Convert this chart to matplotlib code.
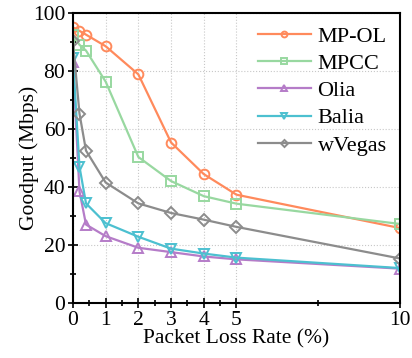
import matplotlib.pyplot as plt
import numpy as np

plt.rcParams['font.family'] = ['Liberation Serif', 'DejaVu Serif']

loss = [0, 0.2, 0.4, 1, 2, 3, 4, 5, 10]
mp_ol = [95, 93.8, 92.5, 88.5, 78.8, 55.3, 44.4, 37.3, 25.8]
mpcc = [92.5, 89, 87, 76.3, 50.3, 42, 36.8, 34.2, 27.2]
olia = [83, 38.5, 27, 23, 19, 17.5, 16, 15, 11.8]
balia = [84.5, 47, 34.3, 27.5, 22.8, 18.7, 17, 15.6, 12]
wvegas = [90.3, 65.3, 52.5, 41.5, 34.3, 31, 28.7, 26.2, 15.3]

labels = ['MP-OL', 'MPCC', 'Olia', 'Balia', 'wVegas']
colors = ['#FF8A5C', '#98D8A0', '#B57CC8', '#4CC0D0', '#8C8C8C']
markers = ['o', 's', '^', 'v', 'D']
series = [mp_ol, mpcc, olia, balia, wvegas]

fig = plt.figure(figsize=(4.12, 3.58), dpi=100)
ax = fig.add_axes([0.177, 0.154, 0.794, 0.81])

for y, lab, c, m in zip(series, labels, colors, markers):
    ms = 6 if m == 'D' else 7
    ax.plot(loss, y, color=c, marker=m, label=lab, lw=1.6, ms=ms,
            markerfacecolor='none', markeredgewidth=1.4)

ax.set_xlim(0, 10)
ax.set_ylim(0, 100)
ax.set_xticks([0, 1, 2, 3, 4, 5, 10])
ax.set_xticks([0.5, 1.5, 2.5, 3.5, 4.5, 7.5], minor=True)
ax.set_yticks([0, 20, 40, 60, 80, 100])
ax.set_yticks([10, 30, 50, 70, 90], minor=True)
ax.tick_params(which='both', direction='inout', labelsize=15.5, width=1.2)
ax.tick_params(which='major', length=7, pad=2)
ax.tick_params(which='minor', length=4)
for s in ax.spines.values():
    s.set_linewidth(1.5)
ax.grid(True, which='major', ls=':', color='#c8c8c8', lw=0.8)

ax.set_xlabel('Packet Loss Rate (%)', fontsize=15.5, labelpad=0)
ax.set_ylabel('Goodput (Mbps)', fontsize=15.5)
ax.yaxis.set_label_coords(-0.105, 0.5)
ax.legend(loc='upper right', frameon=False, fontsize=16, markerscale=0.6,
          handlelength=2.4, labelspacing=0.3, handletextpad=0.3,
          borderaxespad=0.2)

plt.savefig('out.png', dpi=100)
